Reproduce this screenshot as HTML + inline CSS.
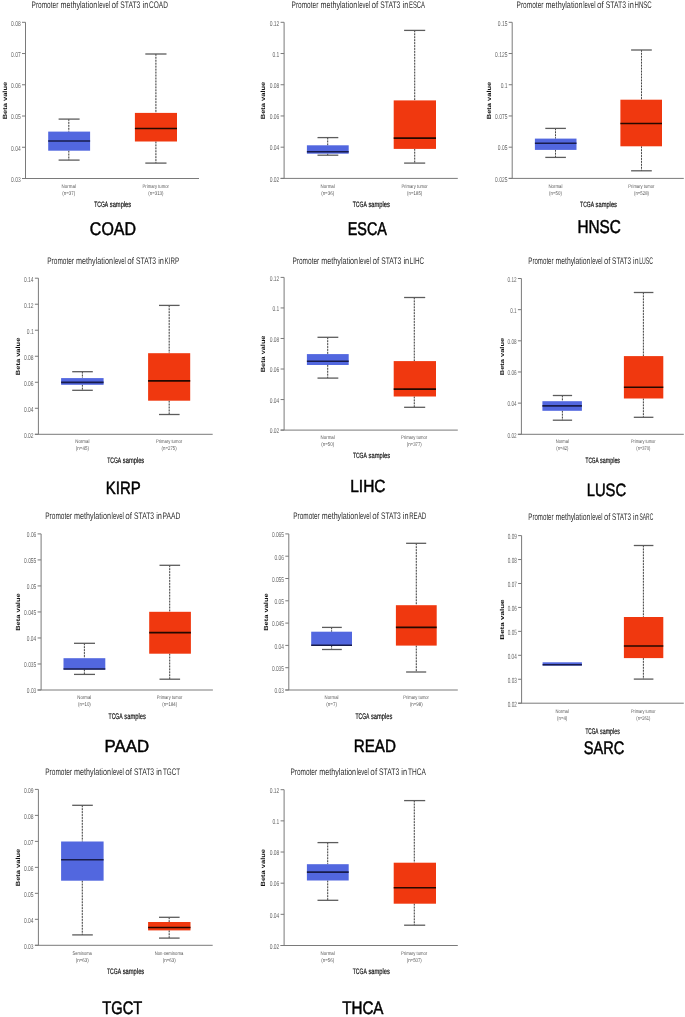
<!DOCTYPE html>
<html><head><meta charset="utf-8"><title>STAT3 promoter methylation</title>
<style>
html,body{margin:0;padding:0;background:#fff;}
body{width:685px;height:1017px;overflow:hidden;}
svg{display:block;font-family:"Liberation Sans",sans-serif;will-change:transform;text-rendering:geometricPrecision;}
</style></head><body>
<svg width="685" height="1017" viewBox="0 0 685 1017">
<rect width="685" height="1017" fill="#fff"/>
<text transform="translate(31.58,8.1) scale(0.6787,1)" font-size="9.59" fill="#2e2e2e" font-weight="normal">Promoter</text>
<text transform="translate(60.42,8.1) scale(0.7513,1)" font-size="9.59" fill="#2e2e2e" font-weight="normal">methylation</text>
<text transform="translate(97.91,8.1) scale(0.6166,1)" font-size="9.59" fill="#2e2e2e" font-weight="normal">level</text>
<text transform="translate(111.57,8.1) scale(0.8468,1)" font-size="9.59" fill="#2e2e2e" font-weight="normal">of</text>
<text transform="translate(120.28,8.1) scale(0.7077,1)" font-size="9.59" fill="#2e2e2e" font-weight="normal">STAT3</text>
<text transform="translate(142.5,8.1) scale(0.7675,1)" font-size="9.59" fill="#2e2e2e" font-weight="normal">in</text>
<text transform="translate(149.08,8.1) scale(0.6816,1)" font-size="9.59" fill="#2e2e2e" font-weight="normal">COAD</text>
<line x1="25.5" y1="22.3" x2="25.5" y2="178.5" stroke="#7a7a7a" stroke-width="1"/>
<line x1="22" y1="178.5" x2="199" y2="178.5" stroke="#7a7a7a" stroke-width="1"/>
<line x1="22" y1="22.3" x2="25.5" y2="22.3" stroke="#7a7a7a" stroke-width="1"/>
<text transform="translate(11.05,25.6) scale(0.6945,1)" font-size="7.12" fill="#666666" font-weight="normal">0.08</text>
<line x1="22" y1="53.54" x2="25.5" y2="53.54" stroke="#7a7a7a" stroke-width="1"/>
<text transform="translate(11.05,56.84) scale(0.6982,1)" font-size="7.12" fill="#666666" font-weight="normal">0.07</text>
<line x1="22" y1="84.78" x2="25.5" y2="84.78" stroke="#7a7a7a" stroke-width="1"/>
<text transform="translate(11.05,88.08) scale(0.6945,1)" font-size="7.12" fill="#666666" font-weight="normal">0.06</text>
<line x1="22" y1="116.02" x2="25.5" y2="116.02" stroke="#7a7a7a" stroke-width="1"/>
<text transform="translate(11.05,119.32) scale(0.6945,1)" font-size="7.12" fill="#666666" font-weight="normal">0.05</text>
<line x1="22" y1="147.26" x2="25.5" y2="147.26" stroke="#7a7a7a" stroke-width="1"/>
<text transform="translate(11.05,150.56) scale(0.6908,1)" font-size="7.12" fill="#666666" font-weight="normal">0.04</text>
<line x1="22" y1="178.5" x2="25.5" y2="178.5" stroke="#7a7a7a" stroke-width="1"/>
<text transform="translate(11.05,181.8) scale(0.6945,1)" font-size="7.12" fill="#666666" font-weight="normal">0.03</text>
<text transform="translate(6.65,119.3) rotate(-90) scale(1.2295,1)" font-size="6.1" font-weight="bold" fill="#111">Beta value</text>
<line x1="68.8" y1="119.1" x2="68.8" y2="131.6" stroke="#d2d2d2" stroke-width="1"/>
<line x1="68.8" y1="150.7" x2="68.8" y2="160.1" stroke="#d2d2d2" stroke-width="1"/>
<line x1="68.8" y1="119.1" x2="68.8" y2="131.6" stroke="#474747" stroke-width="1" stroke-dasharray="1.75,1.2"/>
<line x1="68.8" y1="150.7" x2="68.8" y2="160.1" stroke="#474747" stroke-width="1" stroke-dasharray="1.75,1.2"/>
<line x1="58.6" y1="119.1" x2="79.6" y2="119.1" stroke="#5c5c5c" stroke-width="1.3"/>
<line x1="58.6" y1="160.1" x2="79.6" y2="160.1" stroke="#5c5c5c" stroke-width="1.3"/>
<rect x="48.2" y="131.6" width="41.9" height="19.1" fill="#5267df"/>
<line x1="48.2" y1="141" x2="90.1" y2="141" stroke="#181c4c" stroke-width="1.6"/>
<line x1="155.9" y1="54" x2="155.9" y2="112.9" stroke="#d2d2d2" stroke-width="1"/>
<line x1="155.9" y1="141.5" x2="155.9" y2="163.1" stroke="#d2d2d2" stroke-width="1"/>
<line x1="155.9" y1="54" x2="155.9" y2="112.9" stroke="#474747" stroke-width="1" stroke-dasharray="1.75,1.2"/>
<line x1="155.9" y1="141.5" x2="155.9" y2="163.1" stroke="#474747" stroke-width="1" stroke-dasharray="1.75,1.2"/>
<line x1="145.3" y1="54" x2="166.5" y2="54" stroke="#5c5c5c" stroke-width="1.3"/>
<line x1="145.3" y1="163.1" x2="166.5" y2="163.1" stroke="#5c5c5c" stroke-width="1.3"/>
<rect x="134.9" y="112.9" width="42.1" height="28.6" fill="#f0380f"/>
<line x1="134.9" y1="128.5" x2="177" y2="128.5" stroke="#250800" stroke-width="1.6"/>
<text transform="translate(61.59,187.7) scale(0.8499,1)" font-size="5.23" fill="#5a5a5a" font-weight="normal">Normal</text>
<text transform="translate(62.23,194.9) scale(0.8132,1)" font-size="5.52" fill="#5a5a5a" font-weight="normal">(n=37)</text>
<text transform="translate(142.56,187.7) scale(0.8033,1)" font-size="5.23" fill="#5a5a5a" font-weight="normal">Primary tumor</text>
<text transform="translate(148.29,194.9) scale(0.7917,1)" font-size="5.52" fill="#5a5a5a" font-weight="normal">(n=313)</text>
<text transform="translate(94.3,207) scale(0.6378,1)" font-size="7.85" fill="#111" font-weight="normal" stroke="#111" stroke-width="0.2">TCGA</text>
<text transform="translate(109.81,207) scale(0.7308,1)" font-size="7.85" fill="#111" font-weight="normal" stroke="#111" stroke-width="0.2">samples</text>
<text transform="translate(89.85,234.9) scale(0.8658,1)" font-size="18.46" fill="#000" font-weight="normal" stroke="#000" stroke-width="0.5">COAD</text>
<text transform="translate(291.58,8.1) scale(0.6787,1)" font-size="9.59" fill="#2e2e2e" font-weight="normal">Promoter</text>
<text transform="translate(320.42,8.1) scale(0.7513,1)" font-size="9.59" fill="#2e2e2e" font-weight="normal">methylation</text>
<text transform="translate(357.91,8.1) scale(0.6166,1)" font-size="9.59" fill="#2e2e2e" font-weight="normal">level</text>
<text transform="translate(371.57,8.1) scale(0.8468,1)" font-size="9.59" fill="#2e2e2e" font-weight="normal">of</text>
<text transform="translate(380.28,8.1) scale(0.7077,1)" font-size="9.59" fill="#2e2e2e" font-weight="normal">STAT3</text>
<text transform="translate(402.5,8.1) scale(0.7675,1)" font-size="9.59" fill="#2e2e2e" font-weight="normal">in</text>
<text transform="translate(408.94,8.1) scale(0.6181,1)" font-size="9.59" fill="#2e2e2e" font-weight="normal">ESCA</text>
<line x1="284.1" y1="22.3" x2="284.1" y2="178.4" stroke="#7a7a7a" stroke-width="1"/>
<line x1="280.6" y1="178.4" x2="457.8" y2="178.4" stroke="#7a7a7a" stroke-width="1"/>
<line x1="280.6" y1="22.3" x2="284.1" y2="22.3" stroke="#7a7a7a" stroke-width="1"/>
<text transform="translate(269.66,25.6) scale(0.6979,1)" font-size="7.12" fill="#666666" font-weight="normal">0.12</text>
<line x1="280.6" y1="53.52" x2="284.1" y2="53.52" stroke="#7a7a7a" stroke-width="1"/>
<text transform="translate(272.46,56.82) scale(0.6942,1)" font-size="7.12" fill="#666666" font-weight="normal">0.1</text>
<line x1="280.6" y1="84.74" x2="284.1" y2="84.74" stroke="#7a7a7a" stroke-width="1"/>
<text transform="translate(269.66,88.04) scale(0.6942,1)" font-size="7.12" fill="#666666" font-weight="normal">0.08</text>
<line x1="280.6" y1="115.96" x2="284.1" y2="115.96" stroke="#7a7a7a" stroke-width="1"/>
<text transform="translate(269.66,119.26) scale(0.6942,1)" font-size="7.12" fill="#666666" font-weight="normal">0.06</text>
<line x1="280.6" y1="147.18" x2="284.1" y2="147.18" stroke="#7a7a7a" stroke-width="1"/>
<text transform="translate(269.66,150.48) scale(0.6905,1)" font-size="7.12" fill="#666666" font-weight="normal">0.04</text>
<line x1="280.6" y1="178.4" x2="284.1" y2="178.4" stroke="#7a7a7a" stroke-width="1"/>
<text transform="translate(269.66,181.7) scale(0.6979,1)" font-size="7.12" fill="#666666" font-weight="normal">0.02</text>
<text transform="translate(265.35,119.24) rotate(-90) scale(1.2301,1)" font-size="6.1" font-weight="bold" fill="#111">Beta value</text>
<line x1="327.7" y1="137.6" x2="327.7" y2="145.3" stroke="#d2d2d2" stroke-width="1"/>
<line x1="327.7" y1="153.7" x2="327.7" y2="155.2" stroke="#d2d2d2" stroke-width="1"/>
<line x1="327.7" y1="137.6" x2="327.7" y2="145.3" stroke="#474747" stroke-width="1" stroke-dasharray="1.75,1.2"/>
<line x1="327.7" y1="153.7" x2="327.7" y2="155.2" stroke="#474747" stroke-width="1" stroke-dasharray="1.75,1.2"/>
<line x1="317.5" y1="137.6" x2="338.3" y2="137.6" stroke="#5c5c5c" stroke-width="1.3"/>
<line x1="317.5" y1="155.2" x2="338.3" y2="155.2" stroke="#5c5c5c" stroke-width="1.3"/>
<rect x="306.9" y="145.3" width="41.8" height="8.4" fill="#5267df"/>
<line x1="306.9" y1="151.7" x2="348.7" y2="151.7" stroke="#181c4c" stroke-width="1.6"/>
<line x1="414.7" y1="30.4" x2="414.7" y2="100.4" stroke="#d2d2d2" stroke-width="1"/>
<line x1="414.7" y1="148.9" x2="414.7" y2="163.1" stroke="#d2d2d2" stroke-width="1"/>
<line x1="414.7" y1="30.4" x2="414.7" y2="100.4" stroke="#474747" stroke-width="1" stroke-dasharray="1.75,1.2"/>
<line x1="414.7" y1="148.9" x2="414.7" y2="163.1" stroke="#474747" stroke-width="1" stroke-dasharray="1.75,1.2"/>
<line x1="404.1" y1="30.4" x2="425.2" y2="30.4" stroke="#5c5c5c" stroke-width="1.3"/>
<line x1="404.1" y1="163.1" x2="425.2" y2="163.1" stroke="#5c5c5c" stroke-width="1.3"/>
<rect x="393.7" y="100.4" width="42.3" height="48.5" fill="#f0380f"/>
<line x1="393.7" y1="138.1" x2="436" y2="138.1" stroke="#250800" stroke-width="1.6"/>
<text transform="translate(320.5,187.7) scale(0.8490,1)" font-size="5.23" fill="#5a5a5a" font-weight="normal">Normal</text>
<text transform="translate(321.14,194.9) scale(0.8122,1)" font-size="5.52" fill="#5a5a5a" font-weight="normal">(n=36)</text>
<text transform="translate(401.38,187.7) scale(0.8024,1)" font-size="5.23" fill="#5a5a5a" font-weight="normal">Primary tumor</text>
<text transform="translate(407.1,194.9) scale(0.7908,1)" font-size="5.52" fill="#5a5a5a" font-weight="normal">(n=185)</text>
<text transform="translate(352.8,207.2) scale(0.6413,1)" font-size="7.85" fill="#111" font-weight="normal" stroke="#111" stroke-width="0.2">TCGA</text>
<text transform="translate(368.4,207.2) scale(0.7348,1)" font-size="7.85" fill="#111" font-weight="normal" stroke="#111" stroke-width="0.2">samples</text>
<text transform="translate(347.7,235.1) scale(0.7800,1)" font-size="18.46" fill="#000" font-weight="normal" stroke="#000" stroke-width="0.5">ESCA</text>
<text transform="translate(516.58,8.1) scale(0.6821,1)" font-size="9.59" fill="#2e2e2e" font-weight="normal">Promoter</text>
<text transform="translate(545.57,8.1) scale(0.7551,1)" font-size="9.59" fill="#2e2e2e" font-weight="normal">methylation</text>
<text transform="translate(583.24,8.1) scale(0.6197,1)" font-size="9.59" fill="#2e2e2e" font-weight="normal">level</text>
<text transform="translate(596.97,8.1) scale(0.8511,1)" font-size="9.59" fill="#2e2e2e" font-weight="normal">of</text>
<text transform="translate(605.73,8.1) scale(0.7113,1)" font-size="9.59" fill="#2e2e2e" font-weight="normal">STAT3</text>
<text transform="translate(628.06,8.1) scale(0.7714,1)" font-size="9.59" fill="#2e2e2e" font-weight="normal">in</text>
<text transform="translate(634.51,8.1) scale(0.6359,1)" font-size="9.59" fill="#2e2e2e" font-weight="normal">HNSC</text>
<line x1="512.2" y1="22.3" x2="512.2" y2="178.4" stroke="#7a7a7a" stroke-width="1"/>
<line x1="508.7" y1="178.4" x2="683.8" y2="178.4" stroke="#7a7a7a" stroke-width="1"/>
<line x1="508.7" y1="22.3" x2="512.2" y2="22.3" stroke="#7a7a7a" stroke-width="1"/>
<text transform="translate(497.87,25.6) scale(0.6862,1)" font-size="7.12" fill="#666666" font-weight="normal">0.15</text>
<line x1="508.7" y1="53.52" x2="512.2" y2="53.52" stroke="#7a7a7a" stroke-width="1"/>
<text transform="translate(495.11,56.82) scale(0.6890,1)" font-size="7.12" fill="#666666" font-weight="normal">0.125</text>
<line x1="508.7" y1="84.74" x2="512.2" y2="84.74" stroke="#7a7a7a" stroke-width="1"/>
<text transform="translate(500.64,88.04) scale(0.6862,1)" font-size="7.12" fill="#666666" font-weight="normal">0.1</text>
<line x1="508.7" y1="115.96" x2="512.2" y2="115.96" stroke="#7a7a7a" stroke-width="1"/>
<text transform="translate(495.11,119.26) scale(0.6890,1)" font-size="7.12" fill="#666666" font-weight="normal">0.075</text>
<line x1="508.7" y1="147.18" x2="512.2" y2="147.18" stroke="#7a7a7a" stroke-width="1"/>
<text transform="translate(497.87,150.48) scale(0.6862,1)" font-size="7.12" fill="#666666" font-weight="normal">0.05</text>
<line x1="508.7" y1="178.4" x2="512.2" y2="178.4" stroke="#7a7a7a" stroke-width="1"/>
<text transform="translate(495.11,181.7) scale(0.6890,1)" font-size="7.12" fill="#666666" font-weight="normal">0.025</text>
<text transform="translate(491.12,119.24) rotate(-90) scale(1.2444,1)" font-size="6.03" font-weight="bold" fill="#111">Beta value</text>
<line x1="555.5" y1="128.4" x2="555.5" y2="138.6" stroke="#d2d2d2" stroke-width="1"/>
<line x1="555.5" y1="149.9" x2="555.5" y2="157.4" stroke="#d2d2d2" stroke-width="1"/>
<line x1="555.5" y1="128.4" x2="555.5" y2="138.6" stroke="#474747" stroke-width="1" stroke-dasharray="1.75,1.2"/>
<line x1="555.5" y1="149.9" x2="555.5" y2="157.4" stroke="#474747" stroke-width="1" stroke-dasharray="1.75,1.2"/>
<line x1="545.3" y1="128.4" x2="565.9" y2="128.4" stroke="#5c5c5c" stroke-width="1.3"/>
<line x1="545.3" y1="157.4" x2="565.9" y2="157.4" stroke="#5c5c5c" stroke-width="1.3"/>
<rect x="534.9" y="138.6" width="41.6" height="11.3" fill="#5267df"/>
<line x1="534.9" y1="143.3" x2="576.5" y2="143.3" stroke="#181c4c" stroke-width="1.6"/>
<line x1="641.5" y1="50" x2="641.5" y2="99.7" stroke="#d2d2d2" stroke-width="1"/>
<line x1="641.5" y1="146.3" x2="641.5" y2="170.8" stroke="#d2d2d2" stroke-width="1"/>
<line x1="641.5" y1="50" x2="641.5" y2="99.7" stroke="#474747" stroke-width="1" stroke-dasharray="1.75,1.2"/>
<line x1="641.5" y1="146.3" x2="641.5" y2="170.8" stroke="#474747" stroke-width="1" stroke-dasharray="1.75,1.2"/>
<line x1="631.1" y1="50" x2="651.8" y2="50" stroke="#5c5c5c" stroke-width="1.3"/>
<line x1="631.1" y1="170.8" x2="651.8" y2="170.8" stroke="#5c5c5c" stroke-width="1.3"/>
<rect x="620.4" y="99.7" width="41.6" height="46.6" fill="#f0380f"/>
<line x1="620.4" y1="123.5" x2="662" y2="123.5" stroke="#250800" stroke-width="1.6"/>
<text transform="translate(548.39,187.7) scale(0.8392,1)" font-size="5.23" fill="#5a5a5a" font-weight="normal">Normal</text>
<text transform="translate(549.01,194.9) scale(0.8029,1)" font-size="5.52" fill="#5a5a5a" font-weight="normal">(n=50)</text>
<text transform="translate(628.33,187.7) scale(0.7932,1)" font-size="5.23" fill="#5a5a5a" font-weight="normal">Primary tumor</text>
<text transform="translate(633.98,194.9) scale(0.7817,1)" font-size="5.52" fill="#5a5a5a" font-weight="normal">(n=528)</text>
<text transform="translate(580.1,207.2) scale(0.6498,1)" font-size="7.7" fill="#111" font-weight="normal" stroke="#111" stroke-width="0.2">TCGA</text>
<text transform="translate(595.61,207.2) scale(0.7445,1)" font-size="7.7" fill="#111" font-weight="normal" stroke="#111" stroke-width="0.2">samples</text>
<text transform="translate(577.42,232.8) scale(0.8256,1)" font-size="18.6" fill="#000" font-weight="normal" stroke="#000" stroke-width="0.5">HNSC</text>
<text transform="translate(47.28,263.8) scale(0.6787,1)" font-size="9.59" fill="#2e2e2e" font-weight="normal">Promoter</text>
<text transform="translate(76.12,263.8) scale(0.7513,1)" font-size="9.59" fill="#2e2e2e" font-weight="normal">methylation</text>
<text transform="translate(113.61,263.8) scale(0.6166,1)" font-size="9.59" fill="#2e2e2e" font-weight="normal">level</text>
<text transform="translate(127.27,263.8) scale(0.8468,1)" font-size="9.59" fill="#2e2e2e" font-weight="normal">of</text>
<text transform="translate(135.98,263.8) scale(0.7077,1)" font-size="9.59" fill="#2e2e2e" font-weight="normal">STAT3</text>
<text transform="translate(158.2,263.8) scale(0.7675,1)" font-size="9.59" fill="#2e2e2e" font-weight="normal">in</text>
<text transform="translate(164.61,263.8) scale(0.6466,1)" font-size="9.59" fill="#2e2e2e" font-weight="normal">KIRP</text>
<line x1="38.4" y1="278.2" x2="38.4" y2="434.3" stroke="#7a7a7a" stroke-width="1"/>
<line x1="34.9" y1="434.3" x2="212.7" y2="434.3" stroke="#7a7a7a" stroke-width="1"/>
<line x1="34.9" y1="278.2" x2="38.4" y2="278.2" stroke="#7a7a7a" stroke-width="1"/>
<text transform="translate(23.98,281.5) scale(0.6889,1)" font-size="7.12" fill="#666666" font-weight="normal">0.14</text>
<line x1="34.9" y1="304.22" x2="38.4" y2="304.22" stroke="#7a7a7a" stroke-width="1"/>
<text transform="translate(23.98,307.51) scale(0.6963,1)" font-size="7.12" fill="#666666" font-weight="normal">0.12</text>
<line x1="34.9" y1="330.23" x2="38.4" y2="330.23" stroke="#7a7a7a" stroke-width="1"/>
<text transform="translate(26.77,333.53) scale(0.6926,1)" font-size="7.12" fill="#666666" font-weight="normal">0.1</text>
<line x1="34.9" y1="356.25" x2="38.4" y2="356.25" stroke="#7a7a7a" stroke-width="1"/>
<text transform="translate(23.98,359.55) scale(0.6926,1)" font-size="7.12" fill="#666666" font-weight="normal">0.08</text>
<line x1="34.9" y1="382.27" x2="38.4" y2="382.27" stroke="#7a7a7a" stroke-width="1"/>
<text transform="translate(23.98,385.56) scale(0.6926,1)" font-size="7.12" fill="#666666" font-weight="normal">0.06</text>
<line x1="34.9" y1="408.28" x2="38.4" y2="408.28" stroke="#7a7a7a" stroke-width="1"/>
<text transform="translate(23.98,411.58) scale(0.6889,1)" font-size="7.12" fill="#666666" font-weight="normal">0.04</text>
<line x1="34.9" y1="434.3" x2="38.4" y2="434.3" stroke="#7a7a7a" stroke-width="1"/>
<text transform="translate(23.98,437.6) scale(0.6963,1)" font-size="7.12" fill="#666666" font-weight="normal">0.02</text>
<text transform="translate(19.74,375.14) rotate(-90) scale(1.2330,1)" font-size="6.08" font-weight="bold" fill="#111">Beta value</text>
<line x1="82.4" y1="371.7" x2="82.4" y2="378.1" stroke="#d2d2d2" stroke-width="1"/>
<line x1="82.4" y1="384.8" x2="82.4" y2="390.3" stroke="#d2d2d2" stroke-width="1"/>
<line x1="82.4" y1="371.7" x2="82.4" y2="378.1" stroke="#474747" stroke-width="1" stroke-dasharray="1.75,1.2"/>
<line x1="82.4" y1="384.8" x2="82.4" y2="390.3" stroke="#474747" stroke-width="1" stroke-dasharray="1.75,1.2"/>
<line x1="72.2" y1="371.7" x2="92.8" y2="371.7" stroke="#5c5c5c" stroke-width="1.3"/>
<line x1="72.2" y1="390.3" x2="92.8" y2="390.3" stroke="#5c5c5c" stroke-width="1.3"/>
<rect x="61.1" y="378.1" width="42.5" height="6.7" fill="#5267df"/>
<line x1="61.1" y1="382.4" x2="103.6" y2="382.4" stroke="#181c4c" stroke-width="1.6"/>
<line x1="169.2" y1="305.4" x2="169.2" y2="353.2" stroke="#d2d2d2" stroke-width="1"/>
<line x1="169.2" y1="400.7" x2="169.2" y2="414.5" stroke="#d2d2d2" stroke-width="1"/>
<line x1="169.2" y1="305.4" x2="169.2" y2="353.2" stroke="#474747" stroke-width="1" stroke-dasharray="1.75,1.2"/>
<line x1="169.2" y1="400.7" x2="169.2" y2="414.5" stroke="#474747" stroke-width="1" stroke-dasharray="1.75,1.2"/>
<line x1="159" y1="305.4" x2="179.6" y2="305.4" stroke="#5c5c5c" stroke-width="1.3"/>
<line x1="159" y1="414.5" x2="179.6" y2="414.5" stroke="#5c5c5c" stroke-width="1.3"/>
<rect x="148.1" y="353.2" width="42.1" height="47.5" fill="#f0380f"/>
<line x1="148.1" y1="380.9" x2="190.2" y2="380.9" stroke="#250800" stroke-width="1.6"/>
<text transform="translate(75.22,443.1) scale(0.8470,1)" font-size="5.23" fill="#5a5a5a" font-weight="normal">Normal</text>
<text transform="translate(75.85,450.3) scale(0.8104,1)" font-size="5.52" fill="#5a5a5a" font-weight="normal">(n=45)</text>
<text transform="translate(155.91,443.1) scale(0.8006,1)" font-size="5.23" fill="#5a5a5a" font-weight="normal">Primary tumor</text>
<text transform="translate(161.61,450.3) scale(0.7890,1)" font-size="5.52" fill="#5a5a5a" font-weight="normal">(n=275)</text>
<text transform="translate(107.2,462.8) scale(0.6297,1)" font-size="7.99" fill="#111" font-weight="normal" stroke="#111" stroke-width="0.2">TCGA</text>
<text transform="translate(122.8,462.8) scale(0.7214,1)" font-size="7.99" fill="#111" font-weight="normal" stroke="#111" stroke-width="0.2">samples</text>
<text transform="translate(105.75,494.3) scale(0.8389,1)" font-size="17.88" fill="#000" font-weight="normal" stroke="#000" stroke-width="0.5">KIRP</text>
<text transform="translate(292.48,263.8) scale(0.6787,1)" font-size="9.59" fill="#2e2e2e" font-weight="normal">Promoter</text>
<text transform="translate(321.32,263.8) scale(0.7513,1)" font-size="9.59" fill="#2e2e2e" font-weight="normal">methylation</text>
<text transform="translate(358.81,263.8) scale(0.6166,1)" font-size="9.59" fill="#2e2e2e" font-weight="normal">level</text>
<text transform="translate(372.47,263.8) scale(0.8468,1)" font-size="9.59" fill="#2e2e2e" font-weight="normal">of</text>
<text transform="translate(381.18,263.8) scale(0.7077,1)" font-size="9.59" fill="#2e2e2e" font-weight="normal">STAT3</text>
<text transform="translate(403.4,263.8) scale(0.7675,1)" font-size="9.59" fill="#2e2e2e" font-weight="normal">in</text>
<text transform="translate(409.81,263.8) scale(0.6540,1)" font-size="9.59" fill="#2e2e2e" font-weight="normal">LIHC</text>
<line x1="284.1" y1="277.4" x2="284.1" y2="430.1" stroke="#7a7a7a" stroke-width="1"/>
<line x1="280.6" y1="430.1" x2="457.8" y2="430.1" stroke="#7a7a7a" stroke-width="1"/>
<line x1="280.6" y1="277.4" x2="284.1" y2="277.4" stroke="#7a7a7a" stroke-width="1"/>
<text transform="translate(269.71,280.63) scale(0.7101,1)" font-size="6.96" fill="#666666" font-weight="normal">0.12</text>
<line x1="280.6" y1="307.94" x2="284.1" y2="307.94" stroke="#7a7a7a" stroke-width="1"/>
<text transform="translate(272.49,311.17) scale(0.7064,1)" font-size="6.96" fill="#666666" font-weight="normal">0.1</text>
<line x1="280.6" y1="338.48" x2="284.1" y2="338.48" stroke="#7a7a7a" stroke-width="1"/>
<text transform="translate(269.71,341.71) scale(0.7064,1)" font-size="6.96" fill="#666666" font-weight="normal">0.08</text>
<line x1="280.6" y1="369.02" x2="284.1" y2="369.02" stroke="#7a7a7a" stroke-width="1"/>
<text transform="translate(269.71,372.25) scale(0.7064,1)" font-size="6.96" fill="#666666" font-weight="normal">0.06</text>
<line x1="280.6" y1="399.56" x2="284.1" y2="399.56" stroke="#7a7a7a" stroke-width="1"/>
<text transform="translate(269.71,402.79) scale(0.7026,1)" font-size="6.96" fill="#666666" font-weight="normal">0.04</text>
<line x1="280.6" y1="430.1" x2="284.1" y2="430.1" stroke="#7a7a7a" stroke-width="1"/>
<text transform="translate(269.71,433.33) scale(0.7101,1)" font-size="6.96" fill="#666666" font-weight="normal">0.02</text>
<text transform="translate(265.34,372.23) rotate(-90) scale(1.2089,1)" font-size="6.07" font-weight="bold" fill="#111">Beta value</text>
<line x1="327.7" y1="337.3" x2="327.7" y2="354.1" stroke="#d2d2d2" stroke-width="1"/>
<line x1="327.7" y1="365" x2="327.7" y2="378.1" stroke="#d2d2d2" stroke-width="1"/>
<line x1="327.7" y1="337.3" x2="327.7" y2="354.1" stroke="#474747" stroke-width="1" stroke-dasharray="1.75,1.2"/>
<line x1="327.7" y1="365" x2="327.7" y2="378.1" stroke="#474747" stroke-width="1" stroke-dasharray="1.75,1.2"/>
<line x1="317.5" y1="337.3" x2="338.3" y2="337.3" stroke="#5c5c5c" stroke-width="1.3"/>
<line x1="317.5" y1="378.1" x2="338.3" y2="378.1" stroke="#5c5c5c" stroke-width="1.3"/>
<rect x="306.9" y="354.1" width="41.8" height="10.9" fill="#5267df"/>
<line x1="306.9" y1="361.3" x2="348.7" y2="361.3" stroke="#181c4c" stroke-width="1.6"/>
<line x1="414.3" y1="297.5" x2="414.3" y2="361.1" stroke="#d2d2d2" stroke-width="1"/>
<line x1="414.3" y1="396.5" x2="414.3" y2="407.3" stroke="#d2d2d2" stroke-width="1"/>
<line x1="414.3" y1="297.5" x2="414.3" y2="361.1" stroke="#474747" stroke-width="1" stroke-dasharray="1.75,1.2"/>
<line x1="414.3" y1="396.5" x2="414.3" y2="407.3" stroke="#474747" stroke-width="1" stroke-dasharray="1.75,1.2"/>
<line x1="404.1" y1="297.5" x2="425.2" y2="297.5" stroke="#5c5c5c" stroke-width="1.3"/>
<line x1="404.1" y1="407.3" x2="425.2" y2="407.3" stroke="#5c5c5c" stroke-width="1.3"/>
<rect x="393.7" y="361.1" width="42.3" height="35.4" fill="#f0380f"/>
<line x1="393.7" y1="389.1" x2="436" y2="389.1" stroke="#250800" stroke-width="1.6"/>
<text transform="translate(320.54,439.1) scale(0.8451,1)" font-size="5.23" fill="#5a5a5a" font-weight="normal">Normal</text>
<text transform="translate(321.17,446.3) scale(0.8085,1)" font-size="5.52" fill="#5a5a5a" font-weight="normal">(n=50)</text>
<text transform="translate(401.04,439.1) scale(0.7987,1)" font-size="5.23" fill="#5a5a5a" font-weight="normal">Primary tumor</text>
<text transform="translate(406.73,446.3) scale(0.7872,1)" font-size="5.52" fill="#5a5a5a" font-weight="normal">(n=377)</text>
<text transform="translate(352.9,458.1) scale(0.6552,1)" font-size="7.7" fill="#111" font-weight="normal" stroke="#111" stroke-width="0.2">TCGA</text>
<text transform="translate(368.54,458.1) scale(0.7507,1)" font-size="7.7" fill="#111" font-weight="normal" stroke="#111" stroke-width="0.2">samples</text>
<text transform="translate(350.21,492.3) scale(0.8820,1)" font-size="17.59" fill="#000" font-weight="normal" stroke="#000" stroke-width="0.5">LIHC</text>
<text transform="translate(528.31,263.8) scale(0.6412,1)" font-size="9.59" fill="#2e2e2e" font-weight="normal">Promoter</text>
<text transform="translate(555.56,263.8) scale(0.7098,1)" font-size="9.59" fill="#2e2e2e" font-weight="normal">methylation</text>
<text transform="translate(590.97,263.8) scale(0.5825,1)" font-size="9.59" fill="#2e2e2e" font-weight="normal">level</text>
<text transform="translate(603.88,263.8) scale(0.8000,1)" font-size="9.59" fill="#2e2e2e" font-weight="normal">of</text>
<text transform="translate(612.11,263.8) scale(0.6686,1)" font-size="9.59" fill="#2e2e2e" font-weight="normal">STAT3</text>
<text transform="translate(633.1,263.8) scale(0.7251,1)" font-size="9.59" fill="#2e2e2e" font-weight="normal">in</text>
<text transform="translate(639.21,263.8) scale(0.5415,1)" font-size="9.59" fill="#2e2e2e" font-weight="normal">LUSC</text>
<line x1="521.4" y1="278.5" x2="521.4" y2="434.3" stroke="#7a7a7a" stroke-width="1"/>
<line x1="517.9" y1="434.3" x2="683.8" y2="434.3" stroke="#7a7a7a" stroke-width="1"/>
<line x1="517.9" y1="278.5" x2="521.4" y2="278.5" stroke="#7a7a7a" stroke-width="1"/>
<text transform="translate(507.61,281.79) scale(0.6510,1)" font-size="7.1" fill="#666666" font-weight="normal">0.12</text>
<line x1="517.9" y1="309.66" x2="521.4" y2="309.66" stroke="#7a7a7a" stroke-width="1"/>
<text transform="translate(510.22,312.95) scale(0.6476,1)" font-size="7.1" fill="#666666" font-weight="normal">0.1</text>
<line x1="517.9" y1="340.82" x2="521.4" y2="340.82" stroke="#7a7a7a" stroke-width="1"/>
<text transform="translate(507.61,344.11) scale(0.6475,1)" font-size="7.1" fill="#666666" font-weight="normal">0.08</text>
<line x1="517.9" y1="371.98" x2="521.4" y2="371.98" stroke="#7a7a7a" stroke-width="1"/>
<text transform="translate(507.61,375.27) scale(0.6475,1)" font-size="7.1" fill="#666666" font-weight="normal">0.06</text>
<line x1="517.9" y1="403.14" x2="521.4" y2="403.14" stroke="#7a7a7a" stroke-width="1"/>
<text transform="translate(507.61,406.43) scale(0.6441,1)" font-size="7.1" fill="#666666" font-weight="normal">0.04</text>
<line x1="517.9" y1="434.3" x2="521.4" y2="434.3" stroke="#7a7a7a" stroke-width="1"/>
<text transform="translate(507.61,437.59) scale(0.6510,1)" font-size="7.1" fill="#666666" font-weight="normal">0.02</text>
<text transform="translate(504,375.25) rotate(-90) scale(1.3187,1)" font-size="5.68" font-weight="bold" fill="#111">Beta value</text>
<line x1="562.4" y1="395.5" x2="562.4" y2="401.2" stroke="#d2d2d2" stroke-width="1"/>
<line x1="562.4" y1="410.8" x2="562.4" y2="420.2" stroke="#d2d2d2" stroke-width="1"/>
<line x1="562.4" y1="395.5" x2="562.4" y2="401.2" stroke="#474747" stroke-width="1" stroke-dasharray="1.75,1.2"/>
<line x1="562.4" y1="410.8" x2="562.4" y2="420.2" stroke="#474747" stroke-width="1" stroke-dasharray="1.75,1.2"/>
<line x1="552.8" y1="395.5" x2="572.1" y2="395.5" stroke="#5c5c5c" stroke-width="1.3"/>
<line x1="552.8" y1="420.2" x2="572.1" y2="420.2" stroke="#5c5c5c" stroke-width="1.3"/>
<rect x="542.4" y="401.2" width="39.5" height="9.6" fill="#5267df"/>
<line x1="542.4" y1="405.9" x2="581.9" y2="405.9" stroke="#181c4c" stroke-width="1.6"/>
<line x1="643.4" y1="292.5" x2="643.4" y2="356.1" stroke="#d2d2d2" stroke-width="1"/>
<line x1="643.4" y1="398.5" x2="643.4" y2="417.3" stroke="#d2d2d2" stroke-width="1"/>
<line x1="643.4" y1="292.5" x2="643.4" y2="356.1" stroke="#474747" stroke-width="1" stroke-dasharray="1.75,1.2"/>
<line x1="643.4" y1="398.5" x2="643.4" y2="417.3" stroke="#474747" stroke-width="1" stroke-dasharray="1.75,1.2"/>
<line x1="633.8" y1="292.5" x2="653.4" y2="292.5" stroke="#5c5c5c" stroke-width="1.3"/>
<line x1="633.8" y1="417.3" x2="653.4" y2="417.3" stroke="#5c5c5c" stroke-width="1.3"/>
<rect x="623.9" y="356.1" width="39.4" height="42.4" fill="#f0380f"/>
<line x1="623.9" y1="387.3" x2="663.3" y2="387.3" stroke="#250800" stroke-width="1.6"/>
<text transform="translate(555.7,443.1) scale(0.7904,1)" font-size="5.23" fill="#5a5a5a" font-weight="normal">Normal</text>
<text transform="translate(556.29,450.3) scale(0.7562,1)" font-size="5.52" fill="#5a5a5a" font-weight="normal">(n=42)</text>
<text transform="translate(631,443.1) scale(0.7471,1)" font-size="5.23" fill="#5a5a5a" font-weight="normal">Primary tumor</text>
<text transform="translate(636.32,450.3) scale(0.7363,1)" font-size="5.52" fill="#5a5a5a" font-weight="normal">(n=370)</text>
<text transform="translate(585.61,463.3) scale(0.5956,1)" font-size="7.85" fill="#111" font-weight="normal" stroke="#111" stroke-width="0.2">TCGA</text>
<text transform="translate(600.11,463.3) scale(0.6826,1)" font-size="7.85" fill="#111" font-weight="normal" stroke="#111" stroke-width="0.2">samples</text>
<text transform="translate(586.67,495.8) scale(0.8274,1)" font-size="17.88" fill="#000" font-weight="normal" stroke="#000" stroke-width="0.5">LUSC</text>
<text transform="translate(45.28,519.3) scale(0.6787,1)" font-size="9.59" fill="#2e2e2e" font-weight="normal">Promoter</text>
<text transform="translate(74.12,519.3) scale(0.7513,1)" font-size="9.59" fill="#2e2e2e" font-weight="normal">methylation</text>
<text transform="translate(111.61,519.3) scale(0.6166,1)" font-size="9.59" fill="#2e2e2e" font-weight="normal">level</text>
<text transform="translate(125.27,519.3) scale(0.8468,1)" font-size="9.59" fill="#2e2e2e" font-weight="normal">of</text>
<text transform="translate(133.98,519.3) scale(0.7077,1)" font-size="9.59" fill="#2e2e2e" font-weight="normal">STAT3</text>
<text transform="translate(156.2,519.3) scale(0.7675,1)" font-size="9.59" fill="#2e2e2e" font-weight="normal">in</text>
<text transform="translate(162.58,519.3) scale(0.6968,1)" font-size="9.59" fill="#2e2e2e" font-weight="normal">PAAD</text>
<line x1="41.1" y1="533.9" x2="41.1" y2="690" stroke="#7a7a7a" stroke-width="1"/>
<line x1="37.6" y1="690" x2="212.9" y2="690" stroke="#7a7a7a" stroke-width="1"/>
<line x1="37.6" y1="533.9" x2="41.1" y2="533.9" stroke="#7a7a7a" stroke-width="1"/>
<text transform="translate(26.85,537.2) scale(0.6806,1)" font-size="7.12" fill="#666666" font-weight="normal">0.06</text>
<line x1="37.6" y1="559.92" x2="41.1" y2="559.92" stroke="#7a7a7a" stroke-width="1"/>
<text transform="translate(24.1,563.21) scale(0.6834,1)" font-size="7.12" fill="#666666" font-weight="normal">0.055</text>
<line x1="37.6" y1="585.93" x2="41.1" y2="585.93" stroke="#7a7a7a" stroke-width="1"/>
<text transform="translate(26.85,589.23) scale(0.6806,1)" font-size="7.12" fill="#666666" font-weight="normal">0.05</text>
<line x1="37.6" y1="611.95" x2="41.1" y2="611.95" stroke="#7a7a7a" stroke-width="1"/>
<text transform="translate(24.1,615.25) scale(0.6834,1)" font-size="7.12" fill="#666666" font-weight="normal">0.045</text>
<line x1="37.6" y1="637.97" x2="41.1" y2="637.97" stroke="#7a7a7a" stroke-width="1"/>
<text transform="translate(26.85,641.26) scale(0.6770,1)" font-size="7.12" fill="#666666" font-weight="normal">0.04</text>
<line x1="37.6" y1="663.98" x2="41.1" y2="663.98" stroke="#7a7a7a" stroke-width="1"/>
<text transform="translate(24.1,667.28) scale(0.6834,1)" font-size="7.12" fill="#666666" font-weight="normal">0.035</text>
<line x1="37.6" y1="690" x2="41.1" y2="690" stroke="#7a7a7a" stroke-width="1"/>
<text transform="translate(26.85,693.3) scale(0.6806,1)" font-size="7.12" fill="#666666" font-weight="normal">0.03</text>
<text transform="translate(19.71,630.84) rotate(-90) scale(1.2546,1)" font-size="5.98" font-weight="bold" fill="#111">Beta value</text>
<line x1="84.4" y1="643.3" x2="84.4" y2="658.2" stroke="#d2d2d2" stroke-width="1"/>
<line x1="84.4" y1="669.5" x2="84.4" y2="674.4" stroke="#d2d2d2" stroke-width="1"/>
<line x1="84.4" y1="643.3" x2="84.4" y2="658.2" stroke="#474747" stroke-width="1" stroke-dasharray="1.75,1.2"/>
<line x1="84.4" y1="669.5" x2="84.4" y2="674.4" stroke="#474747" stroke-width="1" stroke-dasharray="1.75,1.2"/>
<line x1="74" y1="643.3" x2="95" y2="643.3" stroke="#5c5c5c" stroke-width="1.3"/>
<line x1="74" y1="674.4" x2="95" y2="674.4" stroke="#5c5c5c" stroke-width="1.3"/>
<rect x="63.5" y="658.2" width="41.8" height="11.3" fill="#5267df"/>
<line x1="63.5" y1="669" x2="105.3" y2="669" stroke="#181c4c" stroke-width="1.6"/>
<line x1="169.7" y1="565.3" x2="169.7" y2="611.8" stroke="#d2d2d2" stroke-width="1"/>
<line x1="169.7" y1="653.7" x2="169.7" y2="679.2" stroke="#d2d2d2" stroke-width="1"/>
<line x1="169.7" y1="565.3" x2="169.7" y2="611.8" stroke="#474747" stroke-width="1" stroke-dasharray="1.75,1.2"/>
<line x1="169.7" y1="653.7" x2="169.7" y2="679.2" stroke="#474747" stroke-width="1" stroke-dasharray="1.75,1.2"/>
<line x1="159.5" y1="565.3" x2="180.1" y2="565.3" stroke="#5c5c5c" stroke-width="1.3"/>
<line x1="159.5" y1="679.2" x2="180.1" y2="679.2" stroke="#5c5c5c" stroke-width="1.3"/>
<rect x="149.2" y="611.8" width="41.7" height="41.9" fill="#f0380f"/>
<line x1="149.2" y1="632.6" x2="190.9" y2="632.6" stroke="#250800" stroke-width="1.6"/>
<text transform="translate(77.34,698.8) scale(0.8324,1)" font-size="5.23" fill="#5a5a5a" font-weight="normal">Normal</text>
<text transform="translate(77.97,706) scale(0.7963,1)" font-size="5.52" fill="#5a5a5a" font-weight="normal">(n=10)</text>
<text transform="translate(156.64,698.8) scale(0.7867,1)" font-size="5.23" fill="#5a5a5a" font-weight="normal">Primary tumor</text>
<text transform="translate(162.24,706) scale(0.7754,1)" font-size="5.52" fill="#5a5a5a" font-weight="normal">(n=184)</text>
<text transform="translate(108.6,718.7) scale(0.6218,1)" font-size="8.14" fill="#111" font-weight="normal" stroke="#111" stroke-width="0.2">TCGA</text>
<text transform="translate(124.28,718.7) scale(0.7124,1)" font-size="8.14" fill="#111" font-weight="normal" stroke="#111" stroke-width="0.2">samples</text>
<text transform="translate(104.61,751.9) scale(0.9621,1)" font-size="17.44" fill="#000" font-weight="normal" stroke="#000" stroke-width="0.5">PAAD</text>
<text transform="translate(293.29,519.3) scale(0.6705,1)" font-size="9.59" fill="#2e2e2e" font-weight="normal">Promoter</text>
<text transform="translate(321.78,519.3) scale(0.7422,1)" font-size="9.59" fill="#2e2e2e" font-weight="normal">methylation</text>
<text transform="translate(358.82,519.3) scale(0.6092,1)" font-size="9.59" fill="#2e2e2e" font-weight="normal">level</text>
<text transform="translate(372.32,519.3) scale(0.8366,1)" font-size="9.59" fill="#2e2e2e" font-weight="normal">of</text>
<text transform="translate(380.92,519.3) scale(0.6992,1)" font-size="9.59" fill="#2e2e2e" font-weight="normal">STAT3</text>
<text transform="translate(402.87,519.3) scale(0.7583,1)" font-size="9.59" fill="#2e2e2e" font-weight="normal">in</text>
<text transform="translate(409.21,519.3) scale(0.6359,1)" font-size="9.59" fill="#2e2e2e" font-weight="normal">READ</text>
<line x1="288.8" y1="533.9" x2="288.8" y2="690" stroke="#7a7a7a" stroke-width="1"/>
<line x1="285.3" y1="690" x2="457.8" y2="690" stroke="#7a7a7a" stroke-width="1"/>
<line x1="285.3" y1="533.9" x2="288.8" y2="533.9" stroke="#7a7a7a" stroke-width="1"/>
<text transform="translate(271.89,537.2) scale(0.6786,1)" font-size="7.12" fill="#666666" font-weight="normal">0.065</text>
<line x1="285.3" y1="556.2" x2="288.8" y2="556.2" stroke="#7a7a7a" stroke-width="1"/>
<text transform="translate(274.61,559.5) scale(0.6758,1)" font-size="7.12" fill="#666666" font-weight="normal">0.06</text>
<line x1="285.3" y1="578.5" x2="288.8" y2="578.5" stroke="#7a7a7a" stroke-width="1"/>
<text transform="translate(271.89,581.8) scale(0.6786,1)" font-size="7.12" fill="#666666" font-weight="normal">0.055</text>
<line x1="285.3" y1="600.8" x2="288.8" y2="600.8" stroke="#7a7a7a" stroke-width="1"/>
<text transform="translate(274.61,604.1) scale(0.6758,1)" font-size="7.12" fill="#666666" font-weight="normal">0.05</text>
<line x1="285.3" y1="623.1" x2="288.8" y2="623.1" stroke="#7a7a7a" stroke-width="1"/>
<text transform="translate(271.89,626.4) scale(0.6786,1)" font-size="7.12" fill="#666666" font-weight="normal">0.045</text>
<line x1="285.3" y1="645.4" x2="288.8" y2="645.4" stroke="#7a7a7a" stroke-width="1"/>
<text transform="translate(274.61,648.7) scale(0.6722,1)" font-size="7.12" fill="#666666" font-weight="normal">0.04</text>
<line x1="285.3" y1="667.7" x2="288.8" y2="667.7" stroke="#7a7a7a" stroke-width="1"/>
<text transform="translate(271.89,671) scale(0.6786,1)" font-size="7.12" fill="#666666" font-weight="normal">0.035</text>
<line x1="285.3" y1="690" x2="288.8" y2="690" stroke="#7a7a7a" stroke-width="1"/>
<text transform="translate(274.61,693.3) scale(0.6758,1)" font-size="7.12" fill="#666666" font-weight="normal">0.03</text>
<text transform="translate(268.19,630.84) rotate(-90) scale(1.2635,1)" font-size="5.94" font-weight="bold" fill="#111">Beta value</text>
<line x1="331.6" y1="627.4" x2="331.6" y2="631.7" stroke="#d2d2d2" stroke-width="1"/>
<line x1="331.6" y1="645.6" x2="331.6" y2="649.5" stroke="#d2d2d2" stroke-width="1"/>
<line x1="331.6" y1="627.4" x2="331.6" y2="631.7" stroke="#474747" stroke-width="1" stroke-dasharray="1.75,1.2"/>
<line x1="331.6" y1="645.6" x2="331.6" y2="649.5" stroke="#474747" stroke-width="1" stroke-dasharray="1.75,1.2"/>
<line x1="322" y1="627.4" x2="341.8" y2="627.4" stroke="#5c5c5c" stroke-width="1.3"/>
<line x1="322" y1="649.5" x2="341.8" y2="649.5" stroke="#5c5c5c" stroke-width="1.3"/>
<rect x="311.2" y="631.7" width="40.8" height="13.9" fill="#5267df"/>
<line x1="311.2" y1="645.3" x2="352" y2="645.3" stroke="#181c4c" stroke-width="1.6"/>
<line x1="416.3" y1="543.3" x2="416.3" y2="605.2" stroke="#d2d2d2" stroke-width="1"/>
<line x1="416.3" y1="645.6" x2="416.3" y2="672" stroke="#d2d2d2" stroke-width="1"/>
<line x1="416.3" y1="543.3" x2="416.3" y2="605.2" stroke="#474747" stroke-width="1" stroke-dasharray="1.75,1.2"/>
<line x1="416.3" y1="645.6" x2="416.3" y2="672" stroke="#474747" stroke-width="1" stroke-dasharray="1.75,1.2"/>
<line x1="406.1" y1="543.3" x2="426.2" y2="543.3" stroke="#5c5c5c" stroke-width="1.3"/>
<line x1="406.1" y1="672" x2="426.2" y2="672" stroke="#5c5c5c" stroke-width="1.3"/>
<rect x="395.9" y="605.2" width="40.8" height="40.4" fill="#f0380f"/>
<line x1="395.9" y1="627.4" x2="436.7" y2="627.4" stroke="#250800" stroke-width="1.6"/>
<text transform="translate(324.59,698.8) scale(0.8265,1)" font-size="5.23" fill="#5a5a5a" font-weight="normal">Normal</text>
<text transform="translate(326.22,706) scale(0.8219,1)" font-size="5.52" fill="#5a5a5a" font-weight="normal">(n=7)</text>
<text transform="translate(403.33,698.8) scale(0.7812,1)" font-size="5.23" fill="#5a5a5a" font-weight="normal">Primary tumor</text>
<text transform="translate(409.91,706) scale(0.7907,1)" font-size="5.52" fill="#5a5a5a" font-weight="normal">(n=98)</text>
<text transform="translate(355.5,718.7) scale(0.6150,1)" font-size="8.14" fill="#111" font-weight="normal" stroke="#111" stroke-width="0.2">TCGA</text>
<text transform="translate(371.01,718.7) scale(0.7047,1)" font-size="8.14" fill="#111" font-weight="normal" stroke="#111" stroke-width="0.2">samples</text>
<text transform="translate(353.63,751.9) scale(0.8529,1)" font-size="17.88" fill="#000" font-weight="normal" stroke="#000" stroke-width="0.5">READ</text>
<text transform="translate(528.31,520.1) scale(0.6412,1)" font-size="9.59" fill="#2e2e2e" font-weight="normal">Promoter</text>
<text transform="translate(555.56,520.1) scale(0.7098,1)" font-size="9.59" fill="#2e2e2e" font-weight="normal">methylation</text>
<text transform="translate(590.97,520.1) scale(0.5825,1)" font-size="9.59" fill="#2e2e2e" font-weight="normal">level</text>
<text transform="translate(603.88,520.1) scale(0.8000,1)" font-size="9.59" fill="#2e2e2e" font-weight="normal">of</text>
<text transform="translate(612.11,520.1) scale(0.6686,1)" font-size="9.59" fill="#2e2e2e" font-weight="normal">STAT3</text>
<text transform="translate(633.1,520.1) scale(0.7251,1)" font-size="9.59" fill="#2e2e2e" font-weight="normal">in</text>
<text transform="translate(639.43,520.1) scale(0.5190,1)" font-size="9.59" fill="#2e2e2e" font-weight="normal">SARC</text>
<line x1="521.6" y1="535.6" x2="521.6" y2="703.2" stroke="#7a7a7a" stroke-width="1"/>
<line x1="518.1" y1="703.2" x2="683.8" y2="703.2" stroke="#7a7a7a" stroke-width="1"/>
<line x1="518.1" y1="535.6" x2="521.6" y2="535.6" stroke="#7a7a7a" stroke-width="1"/>
<text transform="translate(507.79,539.14) scale(0.6067,1)" font-size="7.64" fill="#666666" font-weight="normal">0.09</text>
<line x1="518.1" y1="559.54" x2="521.6" y2="559.54" stroke="#7a7a7a" stroke-width="1"/>
<text transform="translate(507.79,563.08) scale(0.6034,1)" font-size="7.64" fill="#666666" font-weight="normal">0.08</text>
<line x1="518.1" y1="583.49" x2="521.6" y2="583.49" stroke="#7a7a7a" stroke-width="1"/>
<text transform="translate(507.79,587.03) scale(0.6067,1)" font-size="7.64" fill="#666666" font-weight="normal">0.07</text>
<line x1="518.1" y1="607.43" x2="521.6" y2="607.43" stroke="#7a7a7a" stroke-width="1"/>
<text transform="translate(507.79,610.97) scale(0.6034,1)" font-size="7.64" fill="#666666" font-weight="normal">0.06</text>
<line x1="518.1" y1="631.37" x2="521.6" y2="631.37" stroke="#7a7a7a" stroke-width="1"/>
<text transform="translate(507.79,634.91) scale(0.6034,1)" font-size="7.64" fill="#666666" font-weight="normal">0.05</text>
<line x1="518.1" y1="655.31" x2="521.6" y2="655.31" stroke="#7a7a7a" stroke-width="1"/>
<text transform="translate(507.79,658.86) scale(0.6002,1)" font-size="7.64" fill="#666666" font-weight="normal">0.04</text>
<line x1="518.1" y1="679.26" x2="521.6" y2="679.26" stroke="#7a7a7a" stroke-width="1"/>
<text transform="translate(507.79,682.8) scale(0.6034,1)" font-size="7.64" fill="#666666" font-weight="normal">0.03</text>
<line x1="518.1" y1="703.2" x2="521.6" y2="703.2" stroke="#7a7a7a" stroke-width="1"/>
<text transform="translate(507.79,706.74) scale(0.6067,1)" font-size="7.64" fill="#666666" font-weight="normal">0.02</text>
<text transform="translate(504.01,639.68) rotate(-90) scale(1.4151,1)" font-size="5.69" font-weight="bold" fill="#111">Beta value</text>
<rect x="542.6" y="662.3" width="39.3" height="3.3" fill="#5267df"/>
<line x1="542.6" y1="664.8" x2="581.9" y2="664.8" stroke="#181c4c" stroke-width="1.6"/>
<line x1="643.4" y1="545.5" x2="643.4" y2="617" stroke="#d2d2d2" stroke-width="1"/>
<line x1="643.4" y1="658.1" x2="643.4" y2="679.1" stroke="#d2d2d2" stroke-width="1"/>
<line x1="643.4" y1="545.5" x2="643.4" y2="617" stroke="#474747" stroke-width="1" stroke-dasharray="1.75,1.2"/>
<line x1="643.4" y1="658.1" x2="643.4" y2="679.1" stroke="#474747" stroke-width="1" stroke-dasharray="1.75,1.2"/>
<line x1="633.8" y1="545.5" x2="653.4" y2="545.5" stroke="#5c5c5c" stroke-width="1.3"/>
<line x1="633.8" y1="679.1" x2="653.4" y2="679.1" stroke="#5c5c5c" stroke-width="1.3"/>
<rect x="623.9" y="617" width="39.4" height="41.1" fill="#f0380f"/>
<line x1="623.9" y1="646" x2="663.3" y2="646" stroke="#250800" stroke-width="1.6"/>
<text transform="translate(555.48,712.6) scale(0.7924,1)" font-size="5.23" fill="#5a5a5a" font-weight="normal">Normal</text>
<text transform="translate(557.04,719.8) scale(0.7879,1)" font-size="5.52" fill="#5a5a5a" font-weight="normal">(n=4)</text>
<text transform="translate(630.97,712.6) scale(0.7489,1)" font-size="5.23" fill="#5a5a5a" font-weight="normal">Primary tumor</text>
<text transform="translate(636.3,719.8) scale(0.7381,1)" font-size="5.52" fill="#5a5a5a" font-weight="normal">(n=261)</text>
<text transform="translate(585.51,733.7) scale(0.5743,1)" font-size="8.14" fill="#111" font-weight="normal" stroke="#111" stroke-width="0.2">TCGA</text>
<text transform="translate(600.01,733.7) scale(0.6583,1)" font-size="8.14" fill="#111" font-weight="normal" stroke="#111" stroke-width="0.2">samples</text>
<text transform="translate(583.76,753.5) scale(0.8054,1)" font-size="18.17" fill="#000" font-weight="normal" stroke="#000" stroke-width="0.5">SARC</text>
<text transform="translate(45.28,775.3) scale(0.6787,1)" font-size="9.59" fill="#2e2e2e" font-weight="normal">Promoter</text>
<text transform="translate(74.12,775.3) scale(0.7513,1)" font-size="9.59" fill="#2e2e2e" font-weight="normal">methylation</text>
<text transform="translate(111.61,775.3) scale(0.6166,1)" font-size="9.59" fill="#2e2e2e" font-weight="normal">level</text>
<text transform="translate(125.27,775.3) scale(0.8468,1)" font-size="9.59" fill="#2e2e2e" font-weight="normal">of</text>
<text transform="translate(133.98,775.3) scale(0.7077,1)" font-size="9.59" fill="#2e2e2e" font-weight="normal">STAT3</text>
<text transform="translate(156.2,775.3) scale(0.7675,1)" font-size="9.59" fill="#2e2e2e" font-weight="normal">in</text>
<text transform="translate(162.98,775.3) scale(0.6606,1)" font-size="9.59" fill="#2e2e2e" font-weight="normal">TGCT</text>
<line x1="38.4" y1="789.4" x2="38.4" y2="945.3" stroke="#7a7a7a" stroke-width="1"/>
<line x1="34.9" y1="945.3" x2="212.7" y2="945.3" stroke="#7a7a7a" stroke-width="1"/>
<line x1="34.9" y1="789.4" x2="38.4" y2="789.4" stroke="#7a7a7a" stroke-width="1"/>
<text transform="translate(23.97,792.69) scale(0.6980,1)" font-size="7.11" fill="#666666" font-weight="normal">0.09</text>
<line x1="34.9" y1="815.38" x2="38.4" y2="815.38" stroke="#7a7a7a" stroke-width="1"/>
<text transform="translate(23.97,818.68) scale(0.6943,1)" font-size="7.11" fill="#666666" font-weight="normal">0.08</text>
<line x1="34.9" y1="841.37" x2="38.4" y2="841.37" stroke="#7a7a7a" stroke-width="1"/>
<text transform="translate(23.97,844.66) scale(0.6980,1)" font-size="7.11" fill="#666666" font-weight="normal">0.07</text>
<line x1="34.9" y1="867.35" x2="38.4" y2="867.35" stroke="#7a7a7a" stroke-width="1"/>
<text transform="translate(23.97,870.64) scale(0.6943,1)" font-size="7.11" fill="#666666" font-weight="normal">0.06</text>
<line x1="34.9" y1="893.33" x2="38.4" y2="893.33" stroke="#7a7a7a" stroke-width="1"/>
<text transform="translate(23.97,896.63) scale(0.6943,1)" font-size="7.11" fill="#666666" font-weight="normal">0.05</text>
<line x1="34.9" y1="919.32" x2="38.4" y2="919.32" stroke="#7a7a7a" stroke-width="1"/>
<text transform="translate(23.97,922.61) scale(0.6906,1)" font-size="7.11" fill="#666666" font-weight="normal">0.04</text>
<line x1="34.9" y1="945.3" x2="38.4" y2="945.3" stroke="#7a7a7a" stroke-width="1"/>
<text transform="translate(23.97,948.59) scale(0.6943,1)" font-size="7.11" fill="#666666" font-weight="normal">0.03</text>
<text transform="translate(19.75,886.21) rotate(-90) scale(1.2300,1)" font-size="6.09" font-weight="bold" fill="#111">Beta value</text>
<line x1="82.3" y1="805.3" x2="82.3" y2="841.5" stroke="#d2d2d2" stroke-width="1"/>
<line x1="82.3" y1="880.7" x2="82.3" y2="934.9" stroke="#d2d2d2" stroke-width="1"/>
<line x1="82.3" y1="805.3" x2="82.3" y2="841.5" stroke="#474747" stroke-width="1" stroke-dasharray="1.75,1.2"/>
<line x1="82.3" y1="880.7" x2="82.3" y2="934.9" stroke="#474747" stroke-width="1" stroke-dasharray="1.75,1.2"/>
<line x1="72.2" y1="805.3" x2="92.8" y2="805.3" stroke="#5c5c5c" stroke-width="1.3"/>
<line x1="72.2" y1="934.9" x2="92.8" y2="934.9" stroke="#5c5c5c" stroke-width="1.3"/>
<rect x="61.1" y="841.5" width="42.5" height="39.2" fill="#5267df"/>
<line x1="61.1" y1="859.7" x2="103.6" y2="859.7" stroke="#181c4c" stroke-width="1.6"/>
<line x1="169.2" y1="917.3" x2="169.2" y2="922" stroke="#d2d2d2" stroke-width="1"/>
<line x1="169.2" y1="930.4" x2="169.2" y2="938.1" stroke="#d2d2d2" stroke-width="1"/>
<line x1="169.2" y1="917.3" x2="169.2" y2="922" stroke="#474747" stroke-width="1" stroke-dasharray="1.75,1.2"/>
<line x1="169.2" y1="930.4" x2="169.2" y2="938.1" stroke="#474747" stroke-width="1" stroke-dasharray="1.75,1.2"/>
<line x1="159" y1="917.3" x2="179.6" y2="917.3" stroke="#5c5c5c" stroke-width="1.3"/>
<line x1="159" y1="938.1" x2="179.6" y2="938.1" stroke="#5c5c5c" stroke-width="1.3"/>
<rect x="148.1" y="922" width="42.4" height="8.4" fill="#f0380f"/>
<line x1="148.1" y1="927.5" x2="190.5" y2="927.5" stroke="#250800" stroke-width="1.6"/>
<text transform="translate(72.51,954.9) scale(0.7758,1)" font-size="5.23" fill="#5a5a5a" font-weight="normal">Seminoma</text>
<text transform="translate(75.75,962.1) scale(0.8113,1)" font-size="5.52" fill="#5a5a5a" font-weight="normal">(n=63)</text>
<text transform="translate(154.64,954.9) scale(0.8106,1)" font-size="5.23" fill="#5a5a5a" font-weight="normal">Non-seminoma</text>
<text transform="translate(162.65,962.1) scale(0.8113,1)" font-size="5.52" fill="#5a5a5a" font-weight="normal">(n=63)</text>
<text transform="translate(107,974.4) scale(0.6331,1)" font-size="7.99" fill="#111" font-weight="normal" stroke="#111" stroke-width="0.2">TCGA</text>
<text transform="translate(122.68,974.4) scale(0.7253,1)" font-size="7.99" fill="#111" font-weight="normal" stroke="#111" stroke-width="0.2">samples</text>
<text transform="translate(102.26,1014.2) scale(0.8025,1)" font-size="18.31" fill="#000" font-weight="normal" stroke="#000" stroke-width="0.5">TGCT</text>
<text transform="translate(290.38,775.3) scale(0.6787,1)" font-size="9.59" fill="#2e2e2e" font-weight="normal">Promoter</text>
<text transform="translate(319.22,775.3) scale(0.7513,1)" font-size="9.59" fill="#2e2e2e" font-weight="normal">methylation</text>
<text transform="translate(356.71,775.3) scale(0.6166,1)" font-size="9.59" fill="#2e2e2e" font-weight="normal">level</text>
<text transform="translate(370.37,775.3) scale(0.8468,1)" font-size="9.59" fill="#2e2e2e" font-weight="normal">of</text>
<text transform="translate(379.08,775.3) scale(0.7077,1)" font-size="9.59" fill="#2e2e2e" font-weight="normal">STAT3</text>
<text transform="translate(401.3,775.3) scale(0.7675,1)" font-size="9.59" fill="#2e2e2e" font-weight="normal">in</text>
<text transform="translate(408.08,775.3) scale(0.6817,1)" font-size="9.59" fill="#2e2e2e" font-weight="normal">THCA</text>
<line x1="284.1" y1="789.7" x2="284.1" y2="945.5" stroke="#7a7a7a" stroke-width="1"/>
<line x1="280.6" y1="945.5" x2="457.8" y2="945.5" stroke="#7a7a7a" stroke-width="1"/>
<line x1="280.6" y1="789.7" x2="284.1" y2="789.7" stroke="#7a7a7a" stroke-width="1"/>
<text transform="translate(269.71,792.99) scale(0.6960,1)" font-size="7.1" fill="#666666" font-weight="normal">0.12</text>
<line x1="280.6" y1="820.86" x2="284.1" y2="820.86" stroke="#7a7a7a" stroke-width="1"/>
<text transform="translate(272.49,824.15) scale(0.6924,1)" font-size="7.1" fill="#666666" font-weight="normal">0.1</text>
<line x1="280.6" y1="852.02" x2="284.1" y2="852.02" stroke="#7a7a7a" stroke-width="1"/>
<text transform="translate(269.71,855.31) scale(0.6923,1)" font-size="7.1" fill="#666666" font-weight="normal">0.08</text>
<line x1="280.6" y1="883.18" x2="284.1" y2="883.18" stroke="#7a7a7a" stroke-width="1"/>
<text transform="translate(269.71,886.47) scale(0.6923,1)" font-size="7.1" fill="#666666" font-weight="normal">0.06</text>
<line x1="280.6" y1="914.34" x2="284.1" y2="914.34" stroke="#7a7a7a" stroke-width="1"/>
<text transform="translate(269.71,917.63) scale(0.6886,1)" font-size="7.1" fill="#666666" font-weight="normal">0.04</text>
<line x1="280.6" y1="945.5" x2="284.1" y2="945.5" stroke="#7a7a7a" stroke-width="1"/>
<text transform="translate(269.71,948.79) scale(0.6960,1)" font-size="7.1" fill="#666666" font-weight="normal">0.02</text>
<text transform="translate(265.34,886.45) rotate(-90) scale(1.2334,1)" font-size="6.07" font-weight="bold" fill="#111">Beta value</text>
<line x1="327.7" y1="842.6" x2="327.7" y2="864.2" stroke="#d2d2d2" stroke-width="1"/>
<line x1="327.7" y1="880.5" x2="327.7" y2="900.3" stroke="#d2d2d2" stroke-width="1"/>
<line x1="327.7" y1="842.6" x2="327.7" y2="864.2" stroke="#474747" stroke-width="1" stroke-dasharray="1.75,1.2"/>
<line x1="327.7" y1="880.5" x2="327.7" y2="900.3" stroke="#474747" stroke-width="1" stroke-dasharray="1.75,1.2"/>
<line x1="317.5" y1="842.6" x2="338.3" y2="842.6" stroke="#5c5c5c" stroke-width="1.3"/>
<line x1="317.5" y1="900.3" x2="338.3" y2="900.3" stroke="#5c5c5c" stroke-width="1.3"/>
<rect x="306.9" y="864.2" width="41.8" height="16.3" fill="#5267df"/>
<line x1="306.9" y1="872.1" x2="348.7" y2="872.1" stroke="#181c4c" stroke-width="1.6"/>
<line x1="414.3" y1="800.6" x2="414.3" y2="862.7" stroke="#d2d2d2" stroke-width="1"/>
<line x1="414.3" y1="903.7" x2="414.3" y2="925.2" stroke="#d2d2d2" stroke-width="1"/>
<line x1="414.3" y1="800.6" x2="414.3" y2="862.7" stroke="#474747" stroke-width="1" stroke-dasharray="1.75,1.2"/>
<line x1="414.3" y1="903.7" x2="414.3" y2="925.2" stroke="#474747" stroke-width="1" stroke-dasharray="1.75,1.2"/>
<line x1="404.1" y1="800.6" x2="425.2" y2="800.6" stroke="#5c5c5c" stroke-width="1.3"/>
<line x1="404.1" y1="925.2" x2="425.2" y2="925.2" stroke="#5c5c5c" stroke-width="1.3"/>
<rect x="393.7" y="862.7" width="42.3" height="41" fill="#f0380f"/>
<line x1="393.7" y1="887.7" x2="436" y2="887.7" stroke="#250800" stroke-width="1.6"/>
<text transform="translate(320.54,954.9) scale(0.8451,1)" font-size="5.23" fill="#5a5a5a" font-weight="normal">Normal</text>
<text transform="translate(321.17,962.1) scale(0.8085,1)" font-size="5.52" fill="#5a5a5a" font-weight="normal">(n=56)</text>
<text transform="translate(401.04,954.9) scale(0.7987,1)" font-size="5.23" fill="#5a5a5a" font-weight="normal">Primary tumor</text>
<text transform="translate(406.73,962.1) scale(0.7872,1)" font-size="5.52" fill="#5a5a5a" font-weight="normal">(n=507)</text>
<text transform="translate(352.8,974.4) scale(0.6297,1)" font-size="7.99" fill="#111" font-weight="normal" stroke="#111" stroke-width="0.2">TCGA</text>
<text transform="translate(368.4,974.4) scale(0.7214,1)" font-size="7.99" fill="#111" font-weight="normal" stroke="#111" stroke-width="0.2">samples</text>
<text transform="translate(342.15,1014.2) scale(0.8296,1)" font-size="18.31" fill="#000" font-weight="normal" stroke="#000" stroke-width="0.5">THCA</text>
</svg>
</body></html>
